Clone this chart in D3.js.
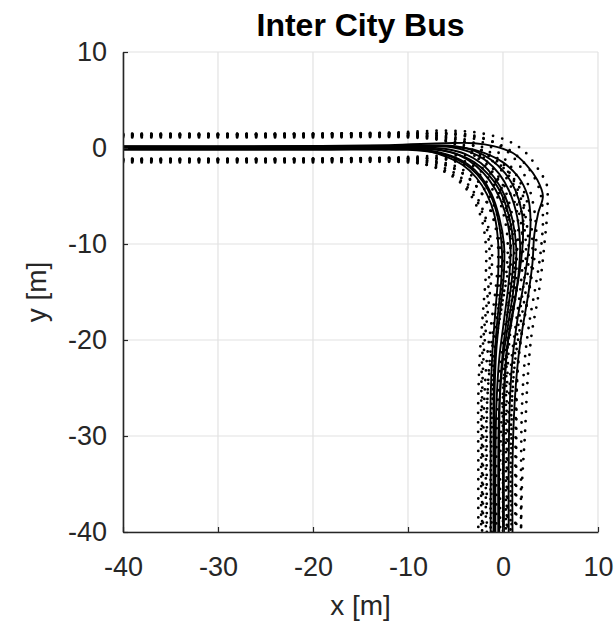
<!DOCTYPE html>
<html><head><meta charset="utf-8">
<script src="https://cdn.jsdelivr.net/npm/d3@7"></script>
<style>body{margin:0;background:#fff;} text{font-family:"Liberation Sans",Arial,Helvetica,sans-serif;}</style>
</head><body><svg id="c" width="616" height="635"></svg>
<script>
// ---- data (metres) ----
const xTicks = [-40, -30, -20, -10, 0, 10];
const yTicks = [-40, -30, -20, -10, 0, 10];
const titleText = "Inter City Bus";
const xLabel = "x [m]";
const yLabel = "y [m]";

// vehicle reference paths (solid)
const pathA = [[-40,0.1],[-25,0.15],[-12,0.3],[-6,0.5],[-3,0.5],[-1,0.2],[1,-0.5],[2.5,-1.8],[3.6,-3.3],[4.2,-5.0],[3.7,-6.8],[3.3,-9],[3.1,-12],[2.7,-15],[2.1,-18.5],[1.6,-22],[1.2,-27],[1.0,-33],[1.0,-40]];
const pathB = [[-40,0],[-25,0.1],[-12,0.2],[-7,0.2],[-4,0],[-2,-0.5],[0,-1.5],[1.6,-3],[2.6,-5],[2.9,-7.5],[2.7,-10.5],[2.2,-14],[1.5,-18],[1.0,-22],[0.7,-27],[0.6,-33],[0.6,-40]];
const pathC = [[-40,0],[-20,0],[-10,0],[-7,-0.2],[-5,-0.6],[-3,-1.5],[-1.5,-2.8],[-0.3,-4.5],[0.6,-7],[1.1,-10],[1.0,-13],[0.5,-17],[0,-21],[-0.3,-25],[-0.4,-30],[-0.4,-40]];
const pathD = [[-40,-0.2],[-20,-0.2],[-10,-0.2],[-7,-0.5],[-5,-1.1],[-3.4,-2.1],[-2.1,-3.5],[-1.1,-5.4],[-0.4,-8],[-0.1,-11],[-0.2,-14],[-0.6,-18],[-0.9,-22],[-1.0,-27],[-1.0,-33],[-1.0,-40]];
const pathE = [[-40,0.1],[-20,0.1],[-9,0.1],[-6,-0.1],[-4,-0.6],[-2.3,-1.6],[-0.9,-3.1],[0.2,-5],[1.0,-7.5],[1.4,-10.5],[1.2,-14],[0.6,-18],[0,-22],[-0.4,-27],[-0.5,-33],[-0.5,-40]];
const pathF = [[-40,-0.1],[-20,-0.1],[-10,-0.1],[-8,-0.3],[-6,-0.9],[-4.2,-1.8],[-2.8,-3.1],[-1.7,-4.8],[-0.9,-7],[-0.5,-10],[-0.5,-13],[-0.8,-17],[-1.1,-21],[-1.3,-26],[-1.3,-33],[-1.3,-40]];
const pathG = [[-40,0.2],[-20,0.2],[-9,0.25],[-5,0.2],[-3,-0.3],[-1.3,-1.2],[0.2,-2.6],[1.3,-4.4],[2.0,-6.8],[2.1,-9.5],[1.8,-12.5],[1.2,-16],[0.6,-19.5],[0.2,-24],[0.1,-30],[0.1,-40]];
const pathH = [[-40,-0.05],[-20,-0.05],[-10,-0.05],[-7.5,-0.3],[-5.5,-0.8],[-3.7,-1.7],[-2.3,-3.0],[-1.2,-4.8],[-0.4,-7.2],[0.1,-10],[0.1,-13],[-0.3,-17],[-0.7,-21],[-0.9,-26],[-0.9,-33],[-0.9,-40]];
const pathI = [[-40,0.05],[-20,0.05],[-9.5,0.05],[-6.5,-0.2],[-4.5,-0.8],[-2.8,-1.9],[-1.4,-3.4],[-0.3,-5.3],[0.5,-7.8],[0.8,-10.5],[0.6,-14],[0.1,-18],[-0.4,-22],[-0.7,-27],[-0.8,-33],[-0.8,-40]];
const pathJ = [[-40,0.15],[-20,0.15],[-9,0.2],[-5.5,0.1],[-3.5,-0.4],[-1.8,-1.3],[-0.4,-2.7],[0.7,-4.6],[1.5,-7.2],[1.8,-10],[1.6,-13.5],[1.0,-17.5],[0.4,-21],[0.1,-26],[0,-33],[0,-40]];

// vehicle body edge tracks (dotted)
const edgeAL = [[-40,1.4],[-25,1.45],[-12,1.6],[-6,1.8],[-2.7,1.6],[0.4,0.8],[2.3,-0.4],[3.9,-2.5],[4.6,-3.8],[4.7,-5.5],[4.6,-7.5],[4.4,-9.6],[4.1,-12.5],[3.7,-15.5],[3.0,-19.5],[2.6,-24],[2.3,-30],[2.0,-35],[1.9,-40]];
const edgeAR = [[-40,-1.2],[-25,-1.15],[-12,-1.0],[-6,-0.8],[-3,-0.8],[-1.5,-1.2],[0,-2],[1.2,-3.3],[2.1,-5],[2.2,-7],[2.0,-9.5],[1.8,-12],[1.4,-15],[0.8,-18.5],[0.3,-22],[-0.1,-27],[-0.3,-33],[-0.3,-40]];
const edgeBL = [[-40,1.3],[-25,1.4],[-12,1.5],[-7,1.5],[-4,1.3],[-1.5,0.8],[0.8,-0.3],[2.6,-2],[3.8,-4.2],[4.2,-7],[4.0,-10.5],[3.5,-14],[2.8,-18],[2.3,-22],[2.0,-27],[1.9,-33],[1.9,-40]];
const edgeBR = [[-40,-1.3],[-25,-1.2],[-12,-1.1],[-7,-1.1],[-4.5,-1.3],[-2.8,-1.8],[-1.2,-2.7],[0.2,-4],[1.2,-5.6],[1.6,-7.8],[1.5,-10.5],[1.0,-14],[0.3,-18],[-0.2,-22],[-0.6,-27],[-0.7,-33],[-0.7,-40]];
const edgeCL = [[-40,1.3],[-20,1.3],[-10,1.3],[-6.5,1.1],[-4,0.6],[-1.8,-0.5],[-0.1,-1.9],[1.1,-3.8],[1.9,-6.5],[2.4,-9.8],[2.3,-13],[1.8,-17],[1.3,-21],[1.0,-25],[0.9,-30],[0.9,-40]];
const edgeCR = [[-40,-1.3],[-20,-1.3],[-10,-1.3],[-7.5,-1.5],[-5.8,-1.9],[-4.2,-2.7],[-2.8,-4],[-1.7,-5.6],[-0.8,-7.8],[-0.3,-10.5],[-0.3,-13],[-0.8,-17],[-1.3,-21],[-1.6,-25],[-1.7,-30],[-1.7,-40]];
const edgeDL = [[-40,1.1],[-20,1.1],[-10,1.1],[-6.5,0.8],[-4.2,0.1],[-2.3,-1.1],[-0.9,-2.8],[0.1,-4.8],[0.8,-7.6],[1.2,-11],[1.1,-14],[0.7,-18],[0.4,-22],[0.3,-27],[0.3,-33],[0.3,-40]];
const edgeDR = [[-40,-1.5],[-20,-1.5],[-10,-1.5],[-7.8,-1.8],[-6.2,-2.3],[-4.7,-3.2],[-3.4,-4.5],[-2.4,-6.2],[-1.7,-8.4],[-1.4,-11],[-1.5,-14],[-1.9,-18],[-2.2,-22],[-2.3,-27],[-2.3,-33],[-2.3,-40]];
const edgeEL = [[-40,1.4],[-20,1.4],[-9,1.4],[-5.5,1.2],[-3.2,0.6],[-1.3,-0.5],[0.3,-2],[1.4,-4],[2.3,-6.8],[2.7,-10.3],[2.5,-14],[1.9,-18],[1.3,-22],[0.9,-27],[0.8,-33],[0.8,-40]];
const edgeER = [[-40,-1.2],[-20,-1.2],[-9,-1.2],[-6.8,-1.4],[-5,-1.9],[-3.4,-2.8],[-2.1,-4.1],[-1,-5.9],[-0.3,-8.2],[0.1,-10.8],[-0.1,-14],[-0.7,-18],[-1.3,-22],[-1.7,-27],[-1.8,-33],[-1.8,-40]];
const edgeFL = [[-40,1.2],[-20,1.2],[-10,1.2],[-7.2,1.0],[-5,0.4],[-3.2,-0.6],[-1.6,-2.2],[-0.4,-4.2],[0.4,-6.6],[0.8,-9.8],[0.8,-13],[0.5,-17],[0.2,-21],[0,-26],[0,-33],[0,-40]];
const edgeFR = [[-40,-1.4],[-20,-1.4],[-10,-1.4],[-8.7,-1.6],[-7,-2.1],[-5.4,-2.9],[-4,-4.1],[-3,-5.6],[-2.2,-7.6],[-1.8,-10.2],[-1.8,-13],[-2.1,-17],[-2.4,-21],[-2.6,-26],[-2.6,-33],[-2.6,-40]];
const edgeGL = [[-40,1.5],[-20,1.5],[-9,1.55],[-4.5,1.5],[-2,1.0],[0,0],[1.6,-1.6],[2.6,-3.7],[3.3,-6.5],[3.5,-9.5],[3.1,-12.8],[2.5,-16.3],[1.9,-19.8],[1.5,-24],[1.4,-30],[1.4,-40]];
const edgeGR = [[-40,-1.1],[-20,-1.1],[-9,-1.05],[-5.5,-1.1],[-4,-1.5],[-2.5,-2.3],[-1.2,-3.5],[-0.2,-5.1],[0.6,-7.2],[0.8,-9.5],[0.6,-12.3],[0,-15.8],[-0.6,-19.3],[-1.0,-24],[-1.2,-30],[-1.2,-40]];
const edgeHL = [[-40,1.25],[-20,1.25],[-10,1.25],[-7,1.05],[-4.6,0.5],[-2.6,-0.6],[-1.1,-2.1],[0.1,-4.1],[0.9,-6.7],[1.4,-9.9],[1.4,-13],[1.0,-17],[0.6,-21],[0.4,-26],[0.4,-33],[0.4,-40]];
const edgeHR = [[-40,-1.35],[-20,-1.35],[-10,-1.35],[-8,-1.55],[-6.4,-2.0],[-4.8,-2.8],[-3.5,-4.0],[-2.5,-5.6],[-1.7,-7.7],[-1.2,-10.2],[-1.2,-13],[-1.6,-17],[-2.0,-21],[-2.2,-26],[-2.2,-33],[-2.2,-40]];
const edgeIL = [[-40,1.35],[-20,1.35],[-9.5,1.35],[-6,1.15],[-3.6,0.5],[-1.7,-0.7],[-0.2,-2.3],[1.0,-4.4],[1.8,-7.3],[2.1,-10.5],[1.9,-14],[1.4,-18],[0.9,-22],[0.6,-27],[0.5,-33],[0.5,-40]];
const edgeIR = [[-40,-1.25],[-20,-1.25],[-9.5,-1.25],[-7.2,-1.45],[-5.6,-1.9],[-4,-2.8],[-2.7,-4.1],[-1.6,-5.9],[-0.8,-8.2],[-0.5,-10.6],[-0.7,-14],[-1.2,-18],[-1.7,-22],[-2.0,-27],[-2.1,-33],[-2.1,-40]];
const edgeJL = [[-40,1.45],[-20,1.45],[-9,1.5],[-5,1.4],[-2.6,0.8],[-0.7,-0.3],[0.8,-1.9],[2.0,-4],[2.8,-6.8],[3.1,-10],[2.9,-13.5],[2.3,-17.5],[1.7,-21],[1.4,-26],[1.3,-33],[1.3,-40]];
const edgeJR = [[-40,-1.15],[-20,-1.15],[-9,-1.1],[-6,-1.2],[-4.5,-1.6],[-2.9,-2.4],[-1.6,-3.7],[-0.5,-5.3],[0.2,-7.5],[0.5,-10],[0.3,-13.5],[-0.3,-17.5],[-0.9,-21],[-1.2,-26],[-1.3,-33],[-1.3,-40]];

const solidPaths = [pathA, pathB, pathC, pathD, pathE, pathF, pathG, pathH, pathI, pathJ];
const dottedPaths = [edgeAL, edgeAR, edgeBL, edgeBR, edgeCL, edgeCR, edgeDL, edgeDR, edgeEL, edgeER,
                     edgeFL, edgeFR, edgeGL, edgeGR, edgeHL, edgeHR, edgeIL, edgeIR, edgeJL, edgeJR];

// ---- layout ----
const svg = d3.select("#c");
const L = 123, T = 52, R = 598, B = 532;
const x = d3.scaleLinear().domain([-40, 10]).range([L, R]);
const y = d3.scaleLinear().domain([-40, 10]).range([B, T]);

const gridColor = "#e2e2e2", axisColor = "#262626";

// grid
svg.append("g").selectAll("line").data(xTicks).join("line")
  .attr("x1", d => x(d)).attr("x2", d => x(d)).attr("y1", T).attr("y2", B)
  .attr("stroke", gridColor).attr("stroke-width", 1.2);
svg.append("g").selectAll("line").data(yTicks).join("line")
  .attr("y1", d => y(d)).attr("y2", d => y(d)).attr("x1", L).attr("x2", R)
  .attr("stroke", gridColor).attr("stroke-width", 1.2);

// data
const clipId = "clipPlot";
svg.append("clipPath").attr("id", clipId).append("rect")
  .attr("x", L).attr("y", T).attr("width", R - L).attr("height", B - T);
const line = d3.line().x(d => x(d[0])).y(d => y(d[1])).curve(d3.curveCatmullRom.alpha(0.5));
const plot = svg.append("g").attr("clip-path", `url(#${clipId})`);
plot.selectAll("path.dot").data(dottedPaths).join("path").attr("class", "dot")
  .attr("d", line).attr("fill", "none").attr("stroke", "#000")
  .attr("stroke-width", 2.8).attr("stroke-linecap", "round")
  .attr("stroke-dasharray", "0 9.5");
plot.selectAll("path.solid").data(solidPaths).join("path").attr("class", "solid")
  .attr("d", line).attr("fill", "none").attr("stroke", "#000")
  .attr("stroke-width", 1.9);

// axes (left and bottom, ticks inward)
const xAxis = d3.axisBottom(x).tickValues(xTicks).tickSizeInner(-5).tickSizeOuter(0).tickPadding(25).tickFormat(d3.format("d"));
const yAxis = d3.axisLeft(y).tickValues(yTicks).tickSizeInner(-5).tickSizeOuter(0).tickPadding(16).tickFormat(d3.format("d"));
const gx = svg.append("g").attr("transform", `translate(0,${B})`).call(xAxis);
const gy = svg.append("g").attr("transform", `translate(${L},0)`).call(yAxis);
[gx, gy].forEach(g => {
  g.select(".domain").attr("stroke", axisColor).attr("stroke-width", 1.6);
  g.selectAll(".tick line").attr("stroke", axisColor).attr("stroke-width", 1.2);
  g.selectAll(".tick text").attr("fill", axisColor)
    .style("font-family", '"Liberation Sans", Arial, sans-serif').style("font-size", "27px");
});
gx.selectAll(".tick text").attr("dy", "0.71em");
gx.selectAll(".tick text").text(d => d < 0 ? "-" + Math.abs(d) : d);
gy.selectAll(".tick text").text(d => d < 0 ? "-" + Math.abs(d) : d);

// labels
svg.append("text").attr("x", (L + R) / 2).attr("y", 36).attr("text-anchor", "middle")
  .attr("font-size", 32).attr("font-weight", "bold").attr("fill", "#000").text(titleText);
svg.append("text").attr("x", (L + R) / 2).attr("y", 615).attr("text-anchor", "middle")
  .attr("font-size", 28).attr("fill", axisColor).text(xLabel);
svg.append("text").attr("transform", `translate(46,${(T + B) / 2}) rotate(-90)`)
  .attr("text-anchor", "middle").attr("font-size", 28).attr("fill", axisColor).text(yLabel);
</script>
</body></html>
